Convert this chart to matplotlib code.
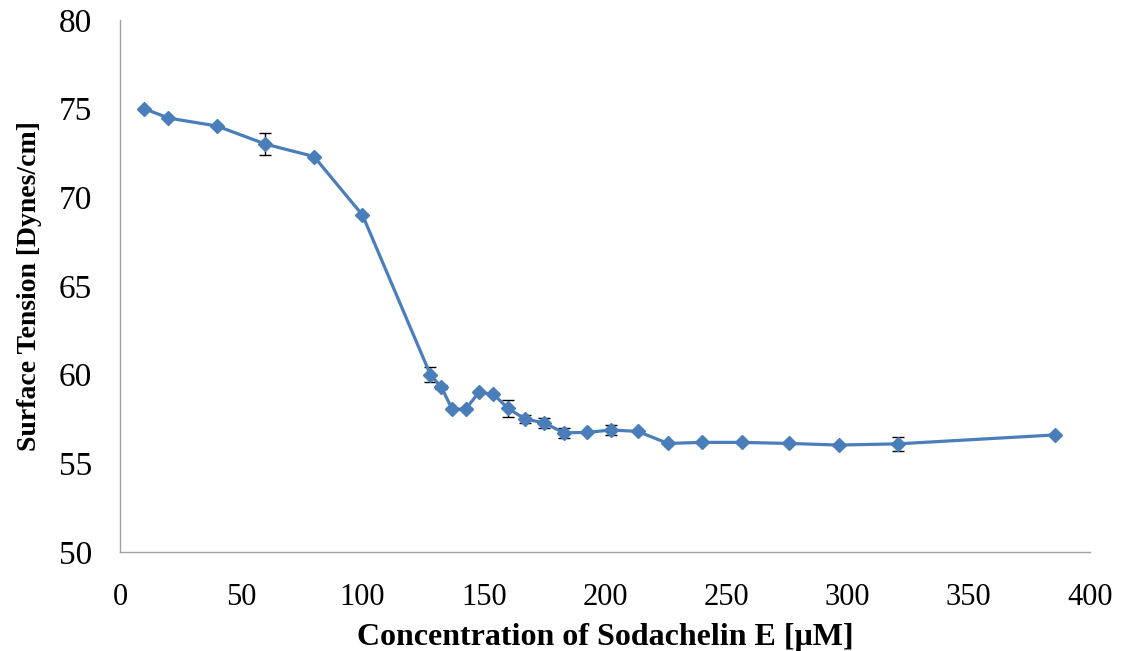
import matplotlib
matplotlib.use("Agg")
import matplotlib.pyplot as plt

conc = [10, 20, 40, 60, 80, 100, 128, 132.5, 137, 142.5, 148, 154, 160, 167, 175, 183, 192.5, 202.5, 213.5, 226, 240, 256.5, 276, 296.5, 321, 385.5]
tension = [75.0, 74.47, 74.02, 73.0, 72.3, 69.0, 60.0, 59.3, 58.05, 58.05, 59.0, 58.9, 58.1, 57.5, 57.28, 56.72, 56.74, 56.88, 56.8, 56.12, 56.18, 56.18, 56.12, 56.03, 56.1, 56.6]
err = [0.05, 0.05, 0.05, 0.62, 0.05, 0.05, 0.44, 0.1, 0.05, 0.05, 0.05, 0.05, 0.46, 0.25, 0.28, 0.28, 0.05, 0.28, 0.05, 0.05, 0.05, 0.05, 0.05, 0.05, 0.38, 0.05]

xticks = [0, 50, 100, 150, 200, 250, 300, 350, 400]
yticks = [50, 55, 60, 65, 70, 75, 80]

plt.rcParams['font.family'] = ['Liberation Serif', 'DejaVu Serif']

fig = plt.figure(figsize=(11.31, 6.51), dpi=100)
ax = fig.add_axes([0.1061, 0.1521, 0.8576, 0.8172])

ax.errorbar(conc, tension, yerr=err, fmt='none', ecolor='black', elinewidth=1.0, capsize=4, capthick=1.0, zorder=2)
ax.plot(conc, tension, color='#4a7ebb', lw=2.3, marker='D', markersize=7.5, markerfacecolor='#4a7ebb', markeredgecolor='#4a7ebb', zorder=3)

ax.set_xlim(0, 400)
ax.set_ylim(50, 80)
ax.set_xticks(xticks)
ax.set_yticks(yticks)
ax.tick_params(axis='both', length=0, colors='black')
ax.tick_params(axis='x', pad=22, labelsize=22)
ax.tick_params(axis='y', pad=20, labelsize=24)

for s in ['top', 'right']:
    ax.spines[s].set_visible(False)
for s in ['left', 'bottom']:
    ax.spines[s].set_color('#a0a0a0')
    ax.spines[s].set_linewidth(1.0)

ax.set_xlabel('Concentration of Sodachelin E [μM]', fontsize=23, fontweight='bold', labelpad=8)
ax.set_ylabel('Surface Tension [Dynes/cm]', fontsize=20, fontweight='bold', labelpad=12)

fig.savefig('out.png', dpi=100)
